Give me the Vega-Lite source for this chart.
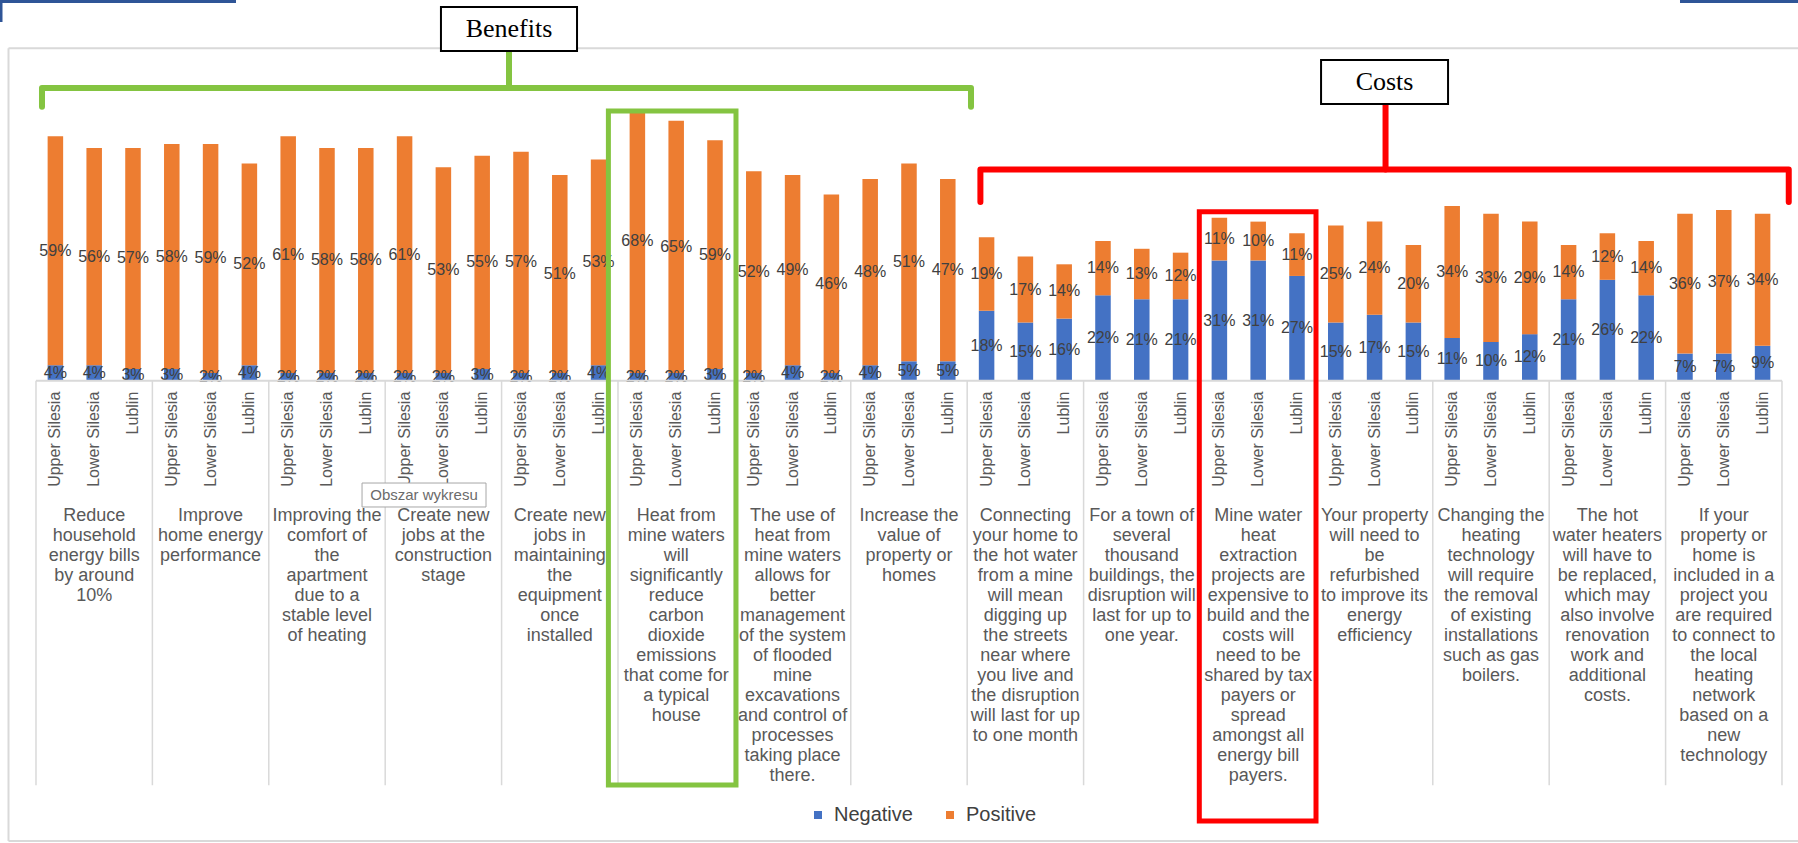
{
  "$schema": "https://vega.github.io/schema/vega-lite/v6.json",
  "width": 1798,
  "height": 843,
  "autosize": {"type": "none"},
  "padding": 0,
  "background": "white",
  "config": {
    "view": {"stroke": null},
    "font": "Liberation Sans",
    "axis": {"disable": true}
  },
  "datasets": {
    "answers": [
      {"q": "01", "region": "Upper Silesia", "Negative": 0.04, "Positive": 0.59},
      {"q": "01", "region": "Lower Silesia", "Negative": 0.04, "Positive": 0.56},
      {"q": "01", "region": "Lublin", "Negative": 0.03, "Positive": 0.57},
      {"q": "02", "region": "Upper Silesia", "Negative": 0.03, "Positive": 0.58},
      {"q": "02", "region": "Lower Silesia", "Negative": 0.02, "Positive": 0.59},
      {"q": "02", "region": "Lublin", "Negative": 0.04, "Positive": 0.52},
      {"q": "03", "region": "Upper Silesia", "Negative": 0.02, "Positive": 0.61},
      {"q": "03", "region": "Lower Silesia", "Negative": 0.02, "Positive": 0.58},
      {"q": "03", "region": "Lublin", "Negative": 0.02, "Positive": 0.58},
      {"q": "04", "region": "Upper Silesia", "Negative": 0.02, "Positive": 0.61},
      {"q": "04", "region": "Lower Silesia", "Negative": 0.02, "Positive": 0.53},
      {"q": "04", "region": "Lublin", "Negative": 0.03, "Positive": 0.55},
      {"q": "05", "region": "Upper Silesia", "Negative": 0.02, "Positive": 0.57},
      {"q": "05", "region": "Lower Silesia", "Negative": 0.02, "Positive": 0.51},
      {"q": "05", "region": "Lublin", "Negative": 0.04, "Positive": 0.53},
      {"q": "06", "region": "Upper Silesia", "Negative": 0.02, "Positive": 0.68},
      {"q": "06", "region": "Lower Silesia", "Negative": 0.02, "Positive": 0.65},
      {"q": "06", "region": "Lublin", "Negative": 0.03, "Positive": 0.59},
      {"q": "07", "region": "Upper Silesia", "Negative": 0.02, "Positive": 0.52},
      {"q": "07", "region": "Lower Silesia", "Negative": 0.04, "Positive": 0.49},
      {"q": "07", "region": "Lublin", "Negative": 0.02, "Positive": 0.46},
      {"q": "08", "region": "Upper Silesia", "Negative": 0.04, "Positive": 0.48},
      {"q": "08", "region": "Lower Silesia", "Negative": 0.05, "Positive": 0.51},
      {"q": "08", "region": "Lublin", "Negative": 0.05, "Positive": 0.47},
      {"q": "09", "region": "Upper Silesia", "Negative": 0.18, "Positive": 0.19},
      {"q": "09", "region": "Lower Silesia", "Negative": 0.15, "Positive": 0.17},
      {"q": "09", "region": "Lublin", "Negative": 0.16, "Positive": 0.14},
      {"q": "10", "region": "Upper Silesia", "Negative": 0.22, "Positive": 0.14},
      {"q": "10", "region": "Lower Silesia", "Negative": 0.21, "Positive": 0.13},
      {"q": "10", "region": "Lublin", "Negative": 0.21, "Positive": 0.12},
      {"q": "11", "region": "Upper Silesia", "Negative": 0.31, "Positive": 0.11},
      {"q": "11", "region": "Lower Silesia", "Negative": 0.31, "Positive": 0.10},
      {"q": "11", "region": "Lublin", "Negative": 0.27, "Positive": 0.11},
      {"q": "12", "region": "Upper Silesia", "Negative": 0.15, "Positive": 0.25},
      {"q": "12", "region": "Lower Silesia", "Negative": 0.17, "Positive": 0.24},
      {"q": "12", "region": "Lublin", "Negative": 0.15, "Positive": 0.20},
      {"q": "13", "region": "Upper Silesia", "Negative": 0.11, "Positive": 0.34},
      {"q": "13", "region": "Lower Silesia", "Negative": 0.10, "Positive": 0.33},
      {"q": "13", "region": "Lublin", "Negative": 0.12, "Positive": 0.29},
      {"q": "14", "region": "Upper Silesia", "Negative": 0.21, "Positive": 0.14},
      {"q": "14", "region": "Lower Silesia", "Negative": 0.26, "Positive": 0.12},
      {"q": "14", "region": "Lublin", "Negative": 0.22, "Positive": 0.14},
      {"q": "15", "region": "Upper Silesia", "Negative": 0.07, "Positive": 0.36},
      {"q": "15", "region": "Lower Silesia", "Negative": 0.07, "Positive": 0.37},
      {"q": "15", "region": "Lublin", "Negative": 0.09, "Positive": 0.34}
    ],
    "statements": [
      {"q": "01", "block": "Benefits", "statement": "Reduce\nhousehold\nenergy bills\nby around\n10%"},
      {"q": "02", "block": "Benefits", "statement": "Improve\nhome energy\nperformance"},
      {"q": "03", "block": "Benefits", "statement": "Improving the\ncomfort of\nthe\napartment\ndue to a\nstable level\nof heating"},
      {"q": "04", "block": "Benefits", "statement": "Create new\njobs at the\nconstruction\nstage"},
      {"q": "05", "block": "Benefits", "statement": "Create new\njobs in\nmaintaining\nthe\nequipment\nonce\ninstalled"},
      {"q": "06", "block": "Benefits", "statement": "Heat from\nmine waters\nwill\nsignificantly\nreduce\ncarbon\ndioxide\nemissions\nthat come for\na typical\nhouse"},
      {"q": "07", "block": "Benefits", "statement": "The use of\nheat from\nmine waters\nallows for\nbetter\nmanagement\nof the system\nof flooded\nmine\nexcavations\nand control of\nprocesses\ntaking place\nthere."},
      {"q": "08", "block": "Benefits", "statement": "Increase the\nvalue of\nproperty or\nhomes"},
      {"q": "09", "block": "Costs", "statement": "Connecting\nyour home to\nthe hot water\nfrom a mine\nwill mean\ndigging up\nthe streets\nnear where\nyou live and\nthe disruption\nwill last for up\nto one month"},
      {"q": "10", "block": "Costs", "statement": "For a town of\nseveral\nthousand\nbuildings, the\ndisruption will\nlast for up to\none year."},
      {"q": "11", "block": "Costs", "statement": "Mine water\nheat\nextraction\nprojects are\nexpensive to\nbuild and the\ncosts will\nneed to be\nshared by tax\npayers or\nspread\namongst all\nenergy bill\npayers."},
      {"q": "12", "block": "Costs", "statement": "Your property\nwill need to\nbe\nrefurbished\nto improve its\nenergy\nefficiency"},
      {"q": "13", "block": "Costs", "statement": "Changing the\nheating\ntechnology\nwill require\nthe removal\nof existing\ninstallations\nsuch as gas\nboilers."},
      {"q": "14", "block": "Costs", "statement": "The hot\nwater heaters\nwill have to\nbe replaced,\nwhich may\nalso involve\nrenovation\nwork and\nadditional\ncosts."},
      {"q": "15", "block": "Costs", "statement": "If your\nproperty or\nhome is\nincluded in a\nproject you\nare required\nto connect to\nthe local\nheating\nnetwork\nbased on a\nnew\ntechnology"}
    ],
    "edges": [
      {"u": -0.2363, "u2": 15.2, "v": 0.8567, "v2": 0.8567},
      {"u": -0.2363, "u2": -0.2363, "v": 0.8567, "v2": -1.1863},
      {"u": -0.2363, "u2": 15.2, "v": -1.1863, "v2": -1.1863},
      {"u": 0, "u2": 15, "v": 0, "v2": 0}
    ],
    "page": [
      {"u": -0.3093, "u2": 1.7182, "v": 0.9774, "v2": 0.9774},
      {"u": -0.3007, "u2": -0.3007, "v": 0.9812, "v2": 0.9245},
      {"u": 14.1237, "u2": 15.2, "v": 0.9774, "v2": 0.9774}
    ],
    "brackets": [
      {"block": "Benefits", "seq": 1, "u": 0.0515, "v": 0.7062},
      {"block": "Benefits", "seq": 2, "u": 0.0515, "v": 0.7544},
      {"block": "Benefits", "seq": 3, "u": 8.0326, "v": 0.7544},
      {"block": "Benefits", "seq": 4, "u": 8.0326, "v": 0.7062},
      {"block": "Costs", "seq": 1, "u": 8.1134, "v": 0.4606},
      {"block": "Costs", "seq": 2, "u": 8.1134, "v": 0.5443},
      {"block": "Costs", "seq": 3, "u": 15.058, "v": 0.5443},
      {"block": "Costs", "seq": 4, "u": 15.058, "v": 0.4606}
    ],
    "stems": [
      {"block": "Benefits", "u": 4.0636, "v": 0.7544, "v2": 0.8497},
      {"block": "Costs", "u": 11.594, "v": 0.5443, "v2": 0.7131}
    ],
    "boxes": [
      {"block": "Benefits", "u": 3.479, "u2": 4.648, "v": 0.963, "v2": 0.8497, "cu": 4.0636, "cv": 0.9065},
      {"block": "Costs", "u": 11.04, "u2": 12.131, "v": 0.8265, "v2": 0.7131, "cu": 11.5855, "cv": 0.7698}
    ],
    "highlights": [
      {"block": "Benefits", "u": 4.9175, "u2": 6.0137, "v": 0.6951, "v2": -1.042},
      {"block": "Costs", "u": 9.994, "u2": 10.9966, "v": 0.4356, "v2": -1.1348}
    ],
    "hint": [
      {"u": 2.801, "u2": 3.866, "v": -0.2637, "v2": -0.3255, "cu": 3.3335, "cv": -0.2946, "label": "Obszar wykresu"}
    ]
  },
  "resolve": {"scale": {"x": "independent"}},
  "layer": [
    {
      "layer": [
        {
          "data": {"name": "answers"},
          "transform": [{"fold": ["Negative", "Positive"], "as": ["answer", "share"]}],
          "mark": {"type": "bar"},
          "encoding": {
            "x": {"field": "q", "type": "nominal", "axis": null, "scale": {"type": "band", "paddingInner": 0, "paddingOuter": 0.2234, "align": 0.692}},
            "xOffset": {"field": "region", "type": "nominal", "sort": ["Upper Silesia", "Lower Silesia", "Lublin"], "scale": {"type": "band", "paddingInner": 0.6, "paddingOuter": 0.3}},
            "y": {"field": "share", "type": "quantitative", "stack": "zero", "axis": null, "scale": {"domain": [-1.1915, 0.9812], "nice": false, "zero": false}},
            "order": {"field": "answer", "type": "nominal", "sort": "ascending"},
            "color": {
              "field": "answer", "type": "nominal",
              "scale": {"domain": ["Negative", "Positive"], "range": ["#4472C4", "#ED7D31"]},
              "legend": {
                "title": null, "orient": "none", "legendX": 808, "legendY": 805,
                "direction": "horizontal", "symbolType": "square", "symbolSize": 64,
                "symbolStrokeWidth": 0, "labelFontSize": 20, "labelColor": "#404040",
                "labelOffset": 6, "columnPadding": 27, "padding": 0
              }
            }
          }
        },
        {
          "data": {"name": "answers"},
          "transform": [{"fold": ["Negative", "Positive"], "as": ["answer", "share"]}],
          "mark": {"type": "text", "fontSize": 16, "color": "#404040"},
          "encoding": {
            "x": {"field": "q", "type": "nominal", "axis": null, "scale": {"type": "band", "paddingInner": 0, "paddingOuter": 0.2234, "align": 0.692}},
            "xOffset": {"field": "region", "type": "nominal", "sort": ["Upper Silesia", "Lower Silesia", "Lublin"], "scale": {"type": "band", "paddingInner": 0.6, "paddingOuter": 0.3}},
            "y": {"field": "share", "type": "quantitative", "stack": "zero", "bandPosition": 0.5, "axis": null},
            "detail": {"field": "answer", "type": "nominal"},
            "order": {"field": "answer", "type": "nominal", "sort": "ascending"},
            "text": {"field": "share", "type": "quantitative", "format": ".0%"}
          }
        },
        {
          "data": {"name": "answers"},
          "mark": {"type": "text", "angle": 270, "align": "right", "baseline": "middle", "dx": -11, "fontSize": 16, "color": "#595959"},
          "encoding": {
            "x": {"field": "q", "type": "nominal", "axis": null, "scale": {"type": "band", "paddingInner": 0, "paddingOuter": 0.2234, "align": 0.692}},
            "xOffset": {"field": "region", "type": "nominal", "sort": ["Upper Silesia", "Lower Silesia", "Lublin"], "scale": {"type": "band", "paddingInner": 0.6, "paddingOuter": 0.3}},
            "y": {"datum": 0, "type": "quantitative", "axis": null},
            "text": {"field": "region", "type": "nominal"}
          }
        },
        {
          "data": {"name": "statements"},
          "mark": {"type": "text", "align": "center", "baseline": "top", "dy": 126, "lineBreak": "\n", "lineHeight": 20, "fontSize": 18, "color": "#595959"},
          "encoding": {
            "x": {"field": "q", "type": "nominal", "axis": null, "scale": {"type": "band", "paddingInner": 0, "paddingOuter": 0.2234, "align": 0.692}},
            "y": {"datum": 0, "type": "quantitative", "axis": null},
            "text": {"field": "statement", "type": "nominal"}
          }
        },
        {
          "data": {"name": "statements"},
          "mark": {"type": "rule", "color": "#d9d9d9", "strokeWidth": 1.5},
          "encoding": {
            "x": {"field": "q", "type": "nominal", "bandPosition": 0, "axis": null, "scale": {"type": "band", "paddingInner": 0, "paddingOuter": 0.2234, "align": 0.692}},
            "y": {"datum": 0, "type": "quantitative", "axis": null},
            "y2": {"datum": -1.0425}
          }
        },
        {
          "data": {"name": "statements"},
          "transform": [{"filter": "datum.q === '15'"}],
          "mark": {"type": "rule", "color": "#d9d9d9", "strokeWidth": 1.5},
          "encoding": {
            "x": {"field": "q", "type": "nominal", "bandPosition": 1, "axis": null, "scale": {"type": "band", "paddingInner": 0, "paddingOuter": 0.2234, "align": 0.692}},
            "y": {"datum": 0, "type": "quantitative", "axis": null},
            "y2": {"datum": -1.0425}
          }
        }
      ]
    },
    {
      "layer": [
        {
          "data": {"name": "edges"},
          "mark": {"type": "rule", "color": "#d9d9d9", "strokeWidth": 2},
          "encoding": {
            "x": {"field": "u", "type": "quantitative", "axis": null, "scale": {"domain": [-0.30928, 15.13746], "nice": false, "zero": false}},
            "x2": {"field": "u2"},
            "y": {"field": "v", "type": "quantitative", "axis": null},
            "y2": {"field": "v2"}
          }
        },
        {
          "data": {"name": "page"},
          "mark": {"type": "rule", "color": "#2F5597", "strokeWidth": 3},
          "encoding": {
            "x": {"field": "u", "type": "quantitative", "axis": null, "scale": {"domain": [-0.30928, 15.13746], "nice": false, "zero": false}},
            "x2": {"field": "u2"},
            "y": {"field": "v", "type": "quantitative", "axis": null},
            "y2": {"field": "v2"}
          }
        },
        {
          "data": {"name": "brackets"},
          "mark": {"type": "line", "strokeWidth": 6, "strokeJoin": "round", "strokeCap": "round"},
          "encoding": {
            "x": {"field": "u", "type": "quantitative", "axis": null, "scale": {"domain": [-0.30928, 15.13746], "nice": false, "zero": false}},
            "y": {"field": "v", "type": "quantitative", "axis": null},
            "detail": {"field": "block", "type": "nominal"},
            "order": {"field": "seq", "type": "quantitative"},
            "stroke": {"field": "block", "type": "nominal", "legend": null, "scale": {"domain": ["Benefits", "Costs"], "range": ["#84C441", "#FF0000"]}}
          }
        },
        {
          "data": {"name": "stems"},
          "mark": {"type": "rule", "strokeWidth": 6, "strokeCap": "round"},
          "encoding": {
            "x": {"field": "u", "type": "quantitative", "axis": null, "scale": {"domain": [-0.30928, 15.13746], "nice": false, "zero": false}},
            "y": {"field": "v", "type": "quantitative", "axis": null},
            "y2": {"field": "v2"},
            "stroke": {"field": "block", "type": "nominal", "legend": null, "scale": {"domain": ["Benefits", "Costs"], "range": ["#84C441", "#FF0000"]}}
          }
        },
        {
          "data": {"name": "boxes"},
          "mark": {"type": "rect", "fill": "white", "stroke": "black", "strokeWidth": 2},
          "encoding": {
            "x": {"field": "u", "type": "quantitative", "axis": null, "scale": {"domain": [-0.30928, 15.13746], "nice": false, "zero": false}},
            "x2": {"field": "u2"},
            "y": {"field": "v", "type": "quantitative", "axis": null},
            "y2": {"field": "v2"}
          }
        },
        {
          "data": {"name": "boxes"},
          "mark": {"type": "text", "font": "Liberation Serif", "fontSize": 26, "color": "black", "align": "center", "baseline": "middle"},
          "encoding": {
            "x": {"field": "cu", "type": "quantitative", "axis": null, "scale": {"domain": [-0.30928, 15.13746], "nice": false, "zero": false}},
            "y": {"field": "cv", "type": "quantitative", "axis": null},
            "text": {"field": "block", "type": "nominal"}
          }
        },
        {
          "data": {"name": "highlights"},
          "mark": {"type": "rect", "fill": "transparent", "strokeWidth": 5},
          "encoding": {
            "x": {"field": "u", "type": "quantitative", "axis": null, "scale": {"domain": [-0.30928, 15.13746], "nice": false, "zero": false}},
            "x2": {"field": "u2"},
            "y": {"field": "v", "type": "quantitative", "axis": null},
            "y2": {"field": "v2"},
            "stroke": {"field": "block", "type": "nominal", "legend": null, "scale": {"domain": ["Benefits", "Costs"], "range": ["#84C441", "#FF0000"]}}
          }
        },
        {
          "data": {"name": "hint"},
          "mark": {"type": "rect", "fill": "white", "stroke": "#a6a6a6", "strokeWidth": 1},
          "encoding": {
            "x": {"field": "u", "type": "quantitative", "axis": null, "scale": {"domain": [-0.30928, 15.13746], "nice": false, "zero": false}},
            "x2": {"field": "u2"},
            "y": {"field": "v", "type": "quantitative", "axis": null},
            "y2": {"field": "v2"}
          }
        },
        {
          "data": {"name": "hint"},
          "mark": {"type": "text", "fontSize": 15, "color": "#6b6b6b", "align": "center", "baseline": "middle"},
          "encoding": {
            "x": {"field": "cu", "type": "quantitative", "axis": null, "scale": {"domain": [-0.30928, 15.13746], "nice": false, "zero": false}},
            "y": {"field": "cv", "type": "quantitative", "axis": null},
            "text": {"field": "label", "type": "nominal"}
          }
        }
      ]
    }
  ]
}
